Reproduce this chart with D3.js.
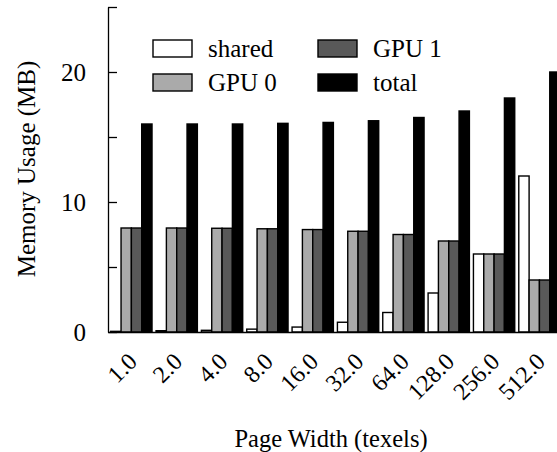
<!DOCTYPE html>
<html>
<head>
<meta charset="utf-8">
<script src="https://cdn.jsdelivr.net/npm/d3@7"></script>
<style>
  html, body { margin: 0; padding: 0; background: #fff; }
  svg { display: block; }
  text { font-family: "Liberation Serif", "DejaVu Serif", serif; fill: #000; }
</style>
</head>
<body>
<svg id="chart" width="557" height="452"></svg>
<script>
// ---- data ----
const categories = ["1.0", "2.0", "4.0", "8.0", "16.0", "32.0", "64.0", "128.0", "256.0", "512.0"];
const seriesNames = ["shared", "GPU 0", "GPU 1", "total"];
const sharedValues = [0.05, 0.1, 0.13, 0.22, 0.38, 0.75, 1.5, 3.0, 6.0, 12.0];
const gpu0Values   = [8.0, 8.0, 7.98, 7.94, 7.88, 7.75, 7.5, 7.0, 6.0, 4.0];
const gpu1Values   = [8.0, 8.0, 7.98, 7.94, 7.88, 7.75, 7.5, 7.0, 6.0, 4.0];
const totalValues  = [16.0, 16.0, 16.0, 16.05, 16.12, 16.25, 16.5, 17.0, 18.0, 20.0];
const yTicks = [0, 5, 10, 15, 20, 25];
const yTickLabels = ["0", "", "10", "", "20", ""];

const seriesValues = [sharedValues, gpu0Values, gpu1Values, totalValues];
const colors = ["#ffffff", "#aaaaaa", "#595959", "#000000"];

const svg = d3.select("#chart");

const y = d3.scaleLinear().domain([0, 25]).range([332, 7]);
const x = d3.scaleBand().domain(categories).range([108, 562.8])
  .paddingInner(0.089).paddingOuter(0.06);
const xs = d3.scaleBand().domain(seriesNames).range([0, x.bandwidth()]);

// bars
const groups = svg.append("g").selectAll("g")
  .data(categories).join("g")
  .attr("transform", d => `translate(${x(d)},0)`);

groups.selectAll("rect")
  .data((d, i) => seriesNames.map((s, j) => ({ s, j, v: seriesValues[j][i] })))
  .join("rect")
  .attr("x", d => xs(d.s))
  .attr("width", xs.bandwidth())
  .attr("y", d => y(d.v))
  .attr("height", d => y(0) - y(d.v))
  .attr("fill", d => colors[d.j])
  .attr("stroke", "#000")
  .attr("stroke-width", 1.4);

// y axis
const yAxis = d3.axisLeft(y).tickValues(yTicks)
  .tickFormat((d, i) => yTickLabels[i]).tickSizeInner(-9).tickSizeOuter(0).tickPadding(22);
const gy = svg.append("g").attr("transform", "translate(108,0)").call(yAxis);
gy.select(".domain").attr("stroke", "#000").attr("stroke-width", 1.3);
gy.selectAll(".tick line").attr("stroke", "#000").attr("stroke-width", 1.3);
gy.selectAll(".tick text").attr("font-size", 25)
  .attr("font-family", "Liberation Serif").attr("x", -22);

// x axis
const xAxis = d3.axisBottom(x).tickSize(0).tickPadding(0);
const gx = svg.append("g").attr("transform", "translate(0,332)").call(xAxis);
gx.select(".domain").attr("stroke", "#000").attr("stroke-width", 1.3);
gx.selectAll(".tick text")
  .attr("font-size", 24).attr("font-family", "Liberation Serif")
  .attr("text-anchor", "end")
  .attr("dy", 0).attr("y", 0)
  .attr("transform", "translate(7,31) rotate(-45)");

// axis titles
svg.append("text")
  .attr("x", 331).attr("y", 447)
  .attr("text-anchor", "middle").attr("font-size", 24.5)
  .text("Page Width (texels)");
svg.append("text")
  .attr("transform", "translate(35,169) rotate(-90)")
  .attr("text-anchor", "middle").attr("font-size", 25)
  .text("Memory Usage (MB)");

// legend
const legendPos = [[153, 40], [153, 74], [318, 40], [318, 74]];
const lg = svg.append("g").selectAll("g").data(seriesNames).join("g")
  .attr("transform", (d, i) => `translate(${legendPos[i][0]},${legendPos[i][1]})`);
lg.append("rect").attr("width", 39).attr("height", 17)
  .attr("fill", (d, i) => colors[i]).attr("stroke", "#000").attr("stroke-width", 1.4);
lg.append("text").attr("x", 55).attr("y", 16.5).attr("font-size", 25).text(d => d);
</script>
</body>
</html>
